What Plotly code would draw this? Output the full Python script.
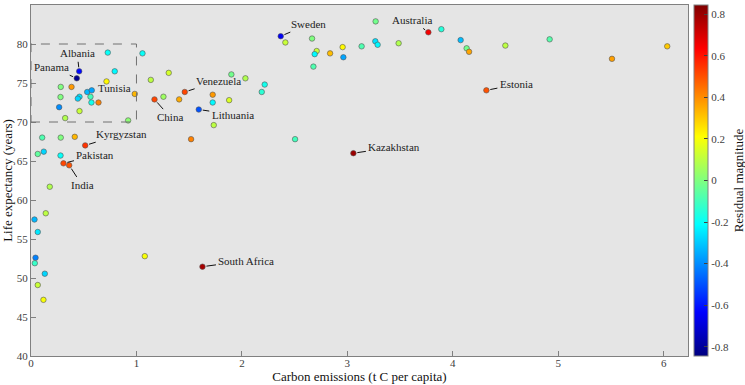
import plotly.graph_objects as go

# carbon emissions (t C per capita)
carbon = [
    0.728, 1.057, 0.457, 0.434, 0.794, 0.282, 0.384, 0.716, 0.533, 0.576,
    0.280, 0.460, 0.444, 0.564, 0.984, 0.267, 0.573, 0.640, 0.324, 0.460,
    0.921, 1.171, 1.256, 1.405, 1.458, 1.136, 1.306, 1.723, 1.723, 1.879,
    1.591, 1.733, 1.900, 2.033, 1.518, 0.106, 0.282, 0.415, 0.514, 0.064,
    0.121, 0.280, 0.308, 0.362, 0.178, 0.140, 0.033, 0.064, 0.043, 0.036,
    0.131, 0.064, 0.118, 1.079, 1.626, 2.368, 2.412, 2.665, 2.709, 2.690,
    2.836, 2.955, 2.962, 2.678, 3.135, 3.268, 3.265, 3.287, 3.486, 3.768,
    3.891, 2.216, 2.188, 2.504, 3.057, 4.074, 4.131, 4.154, 4.498, 4.918,
    5.509, 6.033, 4.318,
]
# life expectancy (years)
life = [
    78.9, 78.8, 76.5, 75.6, 76.5, 74.5, 74.5, 75.2, 73.85, 74.06,
    73.2, 73.24, 73.0, 73.24, 73.6, 71.9, 72.5, 72.5, 70.5, 71.4,
    70.2, 72.9, 73.24, 72.9, 73.85, 75.4, 76.3, 73.5, 72.5, 72.8,
    71.6, 69.6, 76.1, 75.6, 67.8, 68.0, 68.0, 68.1, 67.0, 65.9,
    66.2, 65.7, 64.7, 64.45, 61.7, 58.3, 57.5, 55.9, 52.6, 51.9,
    50.55, 49.1, 47.2, 52.8, 51.45, 81.0, 80.2, 80.7, 79.1, 78.7,
    78.8, 79.6, 78.3, 77.1, 79.7, 82.9, 80.35, 79.9, 80.1, 81.5,
    81.9, 74.8, 73.85, 67.8, 66.0, 80.5, 79.45, 79.0, 79.8, 80.6,
    78.1, 79.7, 74.06,
]
# residual magnitude (colour)
residual = [
    -0.20, -0.20, -0.62, -0.82, -0.22, 0.00, 0.38, 0.22, -0.33, -0.36,
    0.00, -0.25, -0.28, -0.10, 0.33, -0.40, -0.18, 0.42, 0.08, 0.12,
    0.02, 0.52, 0.05, 0.35, 0.52, 0.10, 0.14, 0.38, -0.22, 0.15,
    -0.50, 0.10, -0.02, 0.08, 0.42, -0.08, 0.00, 0.33, 0.55, -0.05,
    -0.28, -0.20, 0.52, 0.50, 0.08, 0.10, -0.33, -0.25, -0.42, -0.12,
    -0.28, 0.12, 0.20, 0.20, 0.78, -0.65, 0.12, 0.00, 0.12, -0.22,
    0.32, 0.22, -0.36, -0.08, -0.08, -0.02, -0.26, -0.22, 0.08, 0.65,
    -0.15, -0.18, -0.14, -0.10, 0.80, -0.32, -0.02, 0.36, 0.10, -0.07,
    0.37, 0.30, 0.50,
]

# labelled countries: index into the arrays above, label offset in px
labels = {
    "Albania": (2, -2, -18),
    "Panama": (3, -25, -11),
    "Tunisia": (9, 23, -2),
    "Kyrgyzstan": (38, 36, -11),
    "Pakistan": (42, 32, -8),
    "India": (43, 13, 20),
    "China": (21, 16, 18),
    "Venezuela": (24, 34, -11),
    "Lithuania": (30, 34, 5),
    "Sweden": (55, 28, -12),
    "Australia": (69, -16, -12),
    "Kazakhstan": (74, 41, -6),
    "Estonia": (82, 30, -6),
    "South Africa": (54, 44, -6),
}

FONT = '"Liberation Serif", "Times New Roman", serif'

# MATLAB-style jet
JET = [
    [0.0, "rgb(0,0,128)"],
    [0.125, "rgb(0,0,255)"],
    [0.375, "rgb(0,255,255)"],
    [0.625, "rgb(255,255,0)"],
    [0.875, "rgb(255,0,0)"],
    [1.0, "rgb(128,0,0)"],
]

fig = go.Figure()
fig.add_trace(go.Scatter(
    x=carbon, y=life, mode="markers",
    marker=dict(
        color=residual, colorscale=JET, cmin=-0.845, cmax=0.845,
        size=5.5, line=dict(color="#555555", width=0.6),
        colorbar=dict(
            x=1.009, xanchor="left", xpad=0, y=0.5, len=1.0, ypad=0,
            thickness=14, outlinewidth=1, outlinecolor="#808080",
            tickvals=[-0.8, -0.6, -0.4, -0.2, 0, 0.2, 0.4, 0.6, 0.8],
            ticktext=["-0.8", "-0.6", "-0.4", "-0.2", "0", "0.2", "0.4", "0.6", "0.8"],
            ticks="inside", ticklen=4, tickcolor="#404040",
            tickfont=dict(family=FONT, size=11, color="#404040"),
            title=dict(text="Residual magnitude", side="right",
                       font=dict(family=FONT, size=13, color="#111111")),
        ),
    ),
    showlegend=False,
    hoverinfo="skip",
))

for name, (i, ax, ay) in labels.items():
    fig.add_annotation(
        x=carbon[i], y=life[i], text=name,
        showarrow=True, arrowhead=0, arrowwidth=1, arrowcolor="#111111",
        ax=ax, ay=ay, standoff=4, startstandoff=1,
        font=dict(family=FONT, size=11, color="#222222"),
    )

# dashed box around the low-emission cluster
fig.add_shape(type="rect", x0=0, x1=1, y0=70, y1=80,
              line=dict(color="#707070", width=1, dash="dash"))

axis_common = dict(
    showgrid=False, zeroline=False, showline=True, linecolor="#808080",
    linewidth=1, mirror=True, ticks="inside", ticklen=5, tickcolor="#808080",
    tickfont=dict(family=FONT, size=11, color="#404040"),
    automargin=False,
)
fig.update_layout(
    width=745, height=385,
    margin=dict(l=31, r=57, t=5, b=29, autoexpand=False),
    paper_bgcolor="white", plot_bgcolor="#e5e5e5",
    font=dict(family=FONT),
    xaxis=dict(range=[0, 6.23], tickvals=[0, 1, 2, 3, 4, 5, 6],
               ticklabelstandoff=-3,
               title=dict(text="Carbon emissions (t C per capita)", standoff=1,
                          font=dict(family=FONT, size=13, color="#111111")),
               **axis_common),
    yaxis=dict(range=[40, 85], tickvals=list(range(40, 86, 5)),
               title=dict(text="Life expectancy (years)", standoff=2,
                          font=dict(family=FONT, size=13, color="#111111")),
               **axis_common),
)

fig.write_html("out.html", config={"displayModeBar": False},
               post_script="document.body.style.margin='0';")
